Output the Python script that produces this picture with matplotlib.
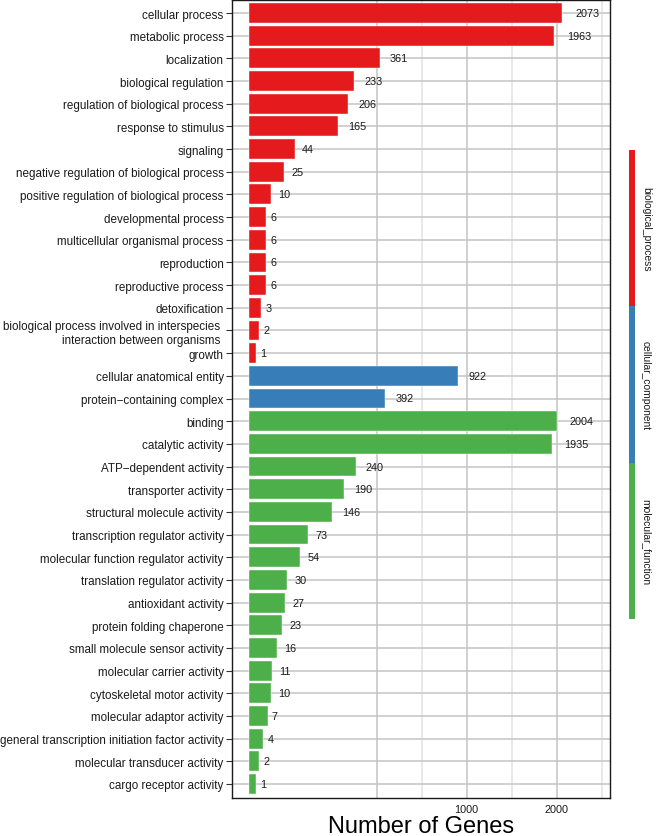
import numpy as np
import matplotlib
matplotlib.use('Agg')
import matplotlib.pyplot as plt

plt.rcParams['font.family'] = ['Liberation Sans', 'DejaVu Sans']

# ----------- data -----------
bp_terms = ['cellular process', 'metabolic process', 'localization', 'biological regulation',
            'regulation of biological process', 'response to stimulus', 'signaling',
            'negative regulation of biological process', 'positive regulation of biological process',
            'developmental process', 'multicellular organismal process', 'reproduction',
            'reproductive process', 'detoxification',
            'biological process involved in interspecies \ninteraction between organisms ',
            'growth']
bp_counts = [2073, 1963, 361, 233, 206, 165, 44, 25, 10, 6, 6, 6, 6, 3, 2, 1]

cc_terms = ['cellular anatomical entity', 'protein\u2212containing complex']
cc_counts = [922, 392]

mf_terms = ['binding', 'catalytic activity', 'ATP\u2212dependent activity', 'transporter activity',
            'structural molecule activity', 'transcription regulator activity',
            'molecular function regulator activity', 'translation regulator activity',
            'antioxidant activity', 'protein folding chaperone', 'small molecule sensor activity',
            'molecular carrier activity', 'cytoskeletal motor activity', 'molecular adaptor activity',
            'general transcription initiation factor activity', 'molecular transducer activity',
            'cargo receptor activity']
mf_counts = [2004, 1935, 240, 190, 146, 73, 54, 30, 27, 23, 16, 11, 10, 7, 4, 2, 1]

groups = ['biological_process', 'cellular_component', 'molecular_function']
group_colors = ['#E41A1C', '#377EB8', '#4DAF4A']

x_major = [1000, 2000]
# -----------------------------

terms = bp_terms + cc_terms + mf_terms
counts = bp_counts + cc_counts + mf_counts
colors = ([group_colors[0]] * len(bp_terms) + [group_colors[1]] * len(cc_terms)
          + [group_colors[2]] * len(mf_terms))
y = np.arange(len(terms))


def fwd(x):
    x = np.asarray(x, dtype=float)
    return np.sign(x) * np.sqrt(np.abs(x))


def inv(x):
    x = np.asarray(x, dtype=float)
    return np.sign(x) * x ** 2


W, H = 659, 837
fig = plt.figure(figsize=(W / 100, H / 100), dpi=100)
ax = fig.add_axes([232 / W, 1 - 798.5 / H, (610 - 232) / W, 798 / H])
ax.set_xscale('function', functions=(fwd, inv))

ax.barh(y, counts, height=0.88, color=colors, edgecolor='white', linewidth=0.3, zorder=3)
for yi, c in zip(y, counts):
    lab = str(c)
    ax.annotate(lab, (c, yi), xytext=(1.5 + 2.9 * len(lab), 0), textcoords='offset pixels',
                ha='left', va='center', fontsize=7.8, color='#1a1a1a', zorder=4)

# sqrt-space grid: majors plus midpoints, extended one step each side
s = fwd(x_major)
step = s[1] - s[0]
ext = np.concatenate([[s[0] - step], s, [s[-1] + step]])
minor = inv((ext[:-1] + ext[1:]) / 2)
ax.set_xticks([inv(s[0] - step)] + x_major)
ax.set_xticklabels([''] + [str(v) for v in x_major])
ax.set_xticks(minor, minor=True)
ax.grid(True, which='major', color='#c4c4c4', linewidth=1.1, zorder=0)
ax.grid(True, which='minor', axis='x', color='#e3e3e3', linewidth=1.1, zorder=0)
ax.set_axisbelow(True)

ax.set_xlim(inv(-2.53), inv(52.5))
ax.set_ylim(len(terms) - 0.4, -0.6)
ax.set_yticks(y)
ax.set_yticklabels(terms, fontsize=8.4, color='#1a1a1a', linespacing=1.2)
ax.tick_params(axis='y', length=4, width=0.8, color='#333333', pad=2)
ax.tick_params(axis='x', which='both', length=0, labelsize=7.8, labelcolor='#1a1a1a', pad=5)
for sp in ax.spines.values():
    sp.set_color('#1a1a1a')
    sp.set_linewidth(1.0)

# x title sits right at the bottom edge, as in the original
fig.text((232 + 610) / 2 / W, 3.5 / H, 'Number of Genes', fontsize=17, color='black',
         ha='center', va='baseline')

# side strip showing the GO categories
sax = fig.add_axes([629 / W, 1 - 620 / H, 6 / W, (620 - 151) / H])
sax.bar([0] * 3, [1] * 3, bottom=[2, 1, 0], width=1, color=group_colors)
sax.set_xlim(-0.5, 0.5)
sax.set_ylim(0, 3)
sax.axis('off')
for i, g in enumerate(groups):
    fig.text(646 / W, 1 - (151 + (i + 0.5) * (620 - 151) / 3) / H, g, rotation=270,
             ha='center', va='center', fontsize=7.4, color='#1a1a1a')

fig.savefig('out.png', dpi=100)
